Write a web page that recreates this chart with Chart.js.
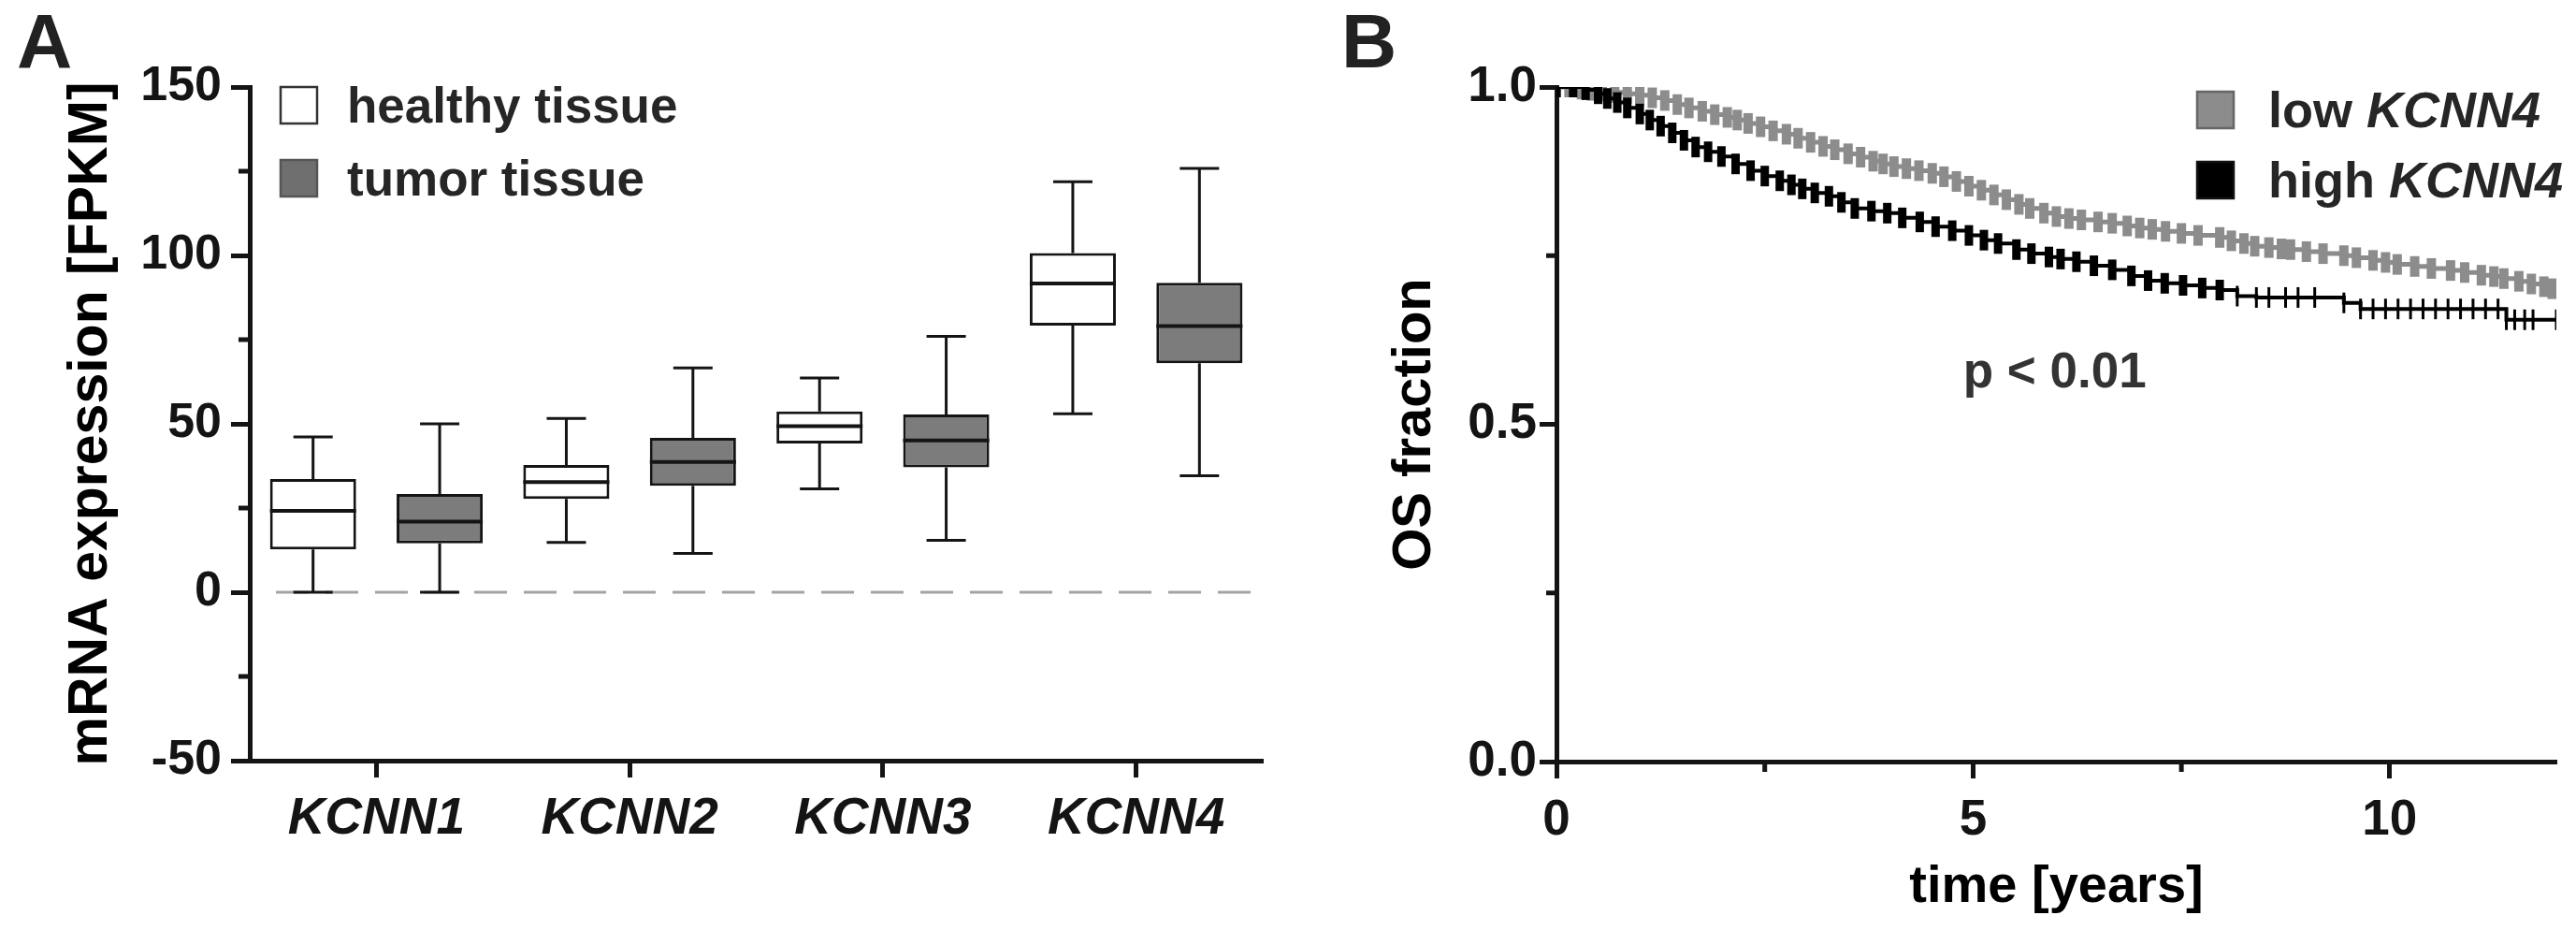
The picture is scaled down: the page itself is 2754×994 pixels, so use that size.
<!DOCTYPE html>
<html>
<head>
<meta charset="utf-8">
<script src="https://cdn.jsdelivr.net/npm/chart.js@4.4.1/dist/chart.umd.min.js"></script>
<style>
html,body{margin:0;padding:0;background:#fff;}
body{width:2754px;height:994px;position:relative;overflow:hidden;}
canvas{position:absolute;top:0;}
#boxChart{left:0;}
#kmChart{left:1390px;}
</style>
</head>
<body>
<canvas id="boxChart" width="1400" height="994"></canvas>
<canvas id="kmChart" width="1364" height="994"></canvas>
<script>
// panel A: box plots (whiskers min..max)
const genes = ['KCNN1', 'KCNN2', 'KCNN3', 'KCNN4'];
const healthyMin = [0, 14.8, 30.7, 53.0];
const healthyQ1 = [12.7, 27.7, 44.2, 79.2];
const healthyMedian = [24.2, 32.7, 49.3, 91.7];
const healthyQ3 = [33.6, 37.8, 53.7, 100.7];
const healthyMax = [46.1, 51.6, 63.6, 121.9];
const tumorMin = [0, 11.5, 15.4, 34.6];
const tumorQ1 = [14.5, 31.6, 37.1, 68.0];
const tumorMedian = [21.0, 38.7, 45.1, 79.0];
const tumorQ3 = [29.2, 45.8, 52.8, 91.9];
const tumorMax = [50.0, 66.6, 76.0, 125.8];
const exprMinorTicks = [125, 75, 25, -25];

// panel B: Kaplan-Meier, OS fraction over years
const lowTime = [0,0.15,0.3,0.42,0.55,0.7,0.85,1.0,1.15,1.3,1.45,1.59,1.75,1.9,2.05,2.17,2.3,2.45,2.6,2.76,2.9,3.05,3.2,3.34,3.5,3.65,3.8,3.92,4.05,4.2,4.35,4.51,4.65,4.8,4.95,5.1,5.25,5.4,5.55,5.68,5.85,6.0,6.15,6.3,6.5,6.67,6.85,7.0,7.15,7.31,7.5,7.7,7.96,8.1,8.25,8.38,8.55,8.7,8.81,9.0,9.2,9.45,9.6,9.8,9.95,10.09,10.3,10.5,10.73,10.9,11.1,11.25,11.37,11.55,11.7,11.85,11.95];
const lowSurv = [1.000,1.000,0.997,0.995,0.994,0.992,0.990,0.988,0.984,0.980,0.974,0.969,0.964,0.959,0.955,0.951,0.946,0.941,0.935,0.930,0.924,0.918,0.912,0.907,0.901,0.896,0.890,0.886,0.882,0.879,0.876,0.872,0.867,0.860,0.853,0.847,0.840,0.833,0.826,0.820,0.813,0.808,0.805,0.803,0.800,0.798,0.794,0.791,0.789,0.786,0.783,0.780,0.777,0.772,0.768,0.764,0.762,0.760,0.759,0.756,0.753,0.750,0.747,0.743,0.740,0.737,0.734,0.731,0.728,0.725,0.721,0.719,0.716,0.712,0.708,0.704,0.701];
const highTime = [0,0.2,0.35,0.5,0.61,0.73,0.85,1.0,1.12,1.25,1.39,1.53,1.67,1.82,1.98,2.15,2.33,2.5,2.68,2.82,2.95,3.1,3.27,3.42,3.58,3.78,3.97,4.15,4.36,4.55,4.75,4.95,5.13,5.3,5.52,5.7,5.91,6.05,6.24,6.45,6.67,6.9,7.1,7.3,7.52,7.75,7.96,8.17,8.4,8.55,8.75,8.9,9.1,9.45,9.65,9.8,9.95,10.1,10.25,10.4,10.55,10.7,10.85,11.0,11.15,11.3,11.4,11.5,11.62,11.72,12.0];
const highSurv = [1.000,1.000,0.996,0.990,0.983,0.977,0.969,0.960,0.951,0.942,0.932,0.921,0.911,0.904,0.897,0.886,0.876,0.868,0.861,0.855,0.849,0.843,0.838,0.829,0.820,0.816,0.813,0.806,0.800,0.793,0.787,0.780,0.773,0.768,0.759,0.753,0.748,0.745,0.741,0.735,0.729,0.720,0.713,0.709,0.706,0.702,0.699,0.690,0.688,0.688,0.688,0.688,0.688,0.680,0.671,0.671,0.671,0.671,0.671,0.671,0.671,0.671,0.671,0.671,0.671,0.671,0.655,0.655,0.655,0.655,0.655];
const timeMinorTicks = [2.5, 7.5];
const osMinorTicks = [0.25, 0.75];
const pValue = 'p < 0.01';

const FONT = '"Liberation Sans", Arial, Helvetica, sans-serif';
const INK = '#141414';
Chart.defaults.font.family = FONT;
Chart.defaults.color = INK;
Chart.defaults.animation = false;

// short minor ticks next to the axis lines
const minorTicks = {
  id: 'minorTicks',
  afterDraw(chart, args, opts) {
    const {ctx, chartArea} = chart;
    ctx.save();
    ctx.strokeStyle = INK;
    ctx.lineWidth = opts.width;
    ctx.beginPath();
    (opts.y || []).forEach(v => {
      const py = chart.scales.y.getPixelForValue(v);
      ctx.moveTo(chartArea.left - opts.len, py);
      ctx.lineTo(chartArea.left, py);
    });
    (opts.x || []).forEach(v => {
      const px = chart.scales.x.getPixelForValue(v);
      ctx.moveTo(px, chartArea.bottom);
      ctx.lineTo(px, chartArea.bottom + opts.len);
    });
    ctx.stroke();
    ctx.restore();
  }
};

// legend squares + labels inside the plot, gene names in italics
const squareLegend = {
  id: 'squareLegend',
  afterDraw(chart, args, opts) {
    const {ctx} = chart;
    ctx.save();
    chart.data.datasets.forEach((ds, i) => {
      const k = opts.order ? opts.order[i] : i;
      const top = opts.top + k * opts.gap;
      ctx.fillStyle = ds.legendFill || ds.backgroundColor;
      ctx.fillRect(opts.left, top, opts.size, opts.size);
      ctx.strokeStyle = ds.legendStroke || '#222';
      ctx.lineWidth = 2.5;
      ctx.strokeRect(opts.left, top, opts.size, opts.size);
      const m = ds.label.match(/^(.*?)(KCNN\d)$/);
      const parts = m ? [[m[1], 'bold'], [m[2], 'italic bold']] : [[ds.label, 'bold']];
      let x = opts.left + opts.size + opts.textGap;
      ctx.fillStyle = '#262626';
      ctx.textBaseline = 'alphabetic';
      parts.forEach(([t, w]) => {
        ctx.font = w + ' ' + opts.fontSize + 'px ' + FONT;
        ctx.fillText(t, x, top + opts.size - 1);
        x += ctx.measureText(t).width;
      });
    });
    ctx.restore();
  }
};

// panel letter and free text
const panelText = {
  id: 'panelText',
  afterDraw(chart, args, opts) {
    const {ctx} = chart;
    ctx.save();
    ctx.fillStyle = '#222';
    ctx.font = 'bold 82px ' + FONT;
    ctx.textBaseline = 'alphabetic';
    ctx.textAlign = 'left';
    ctx.fillText(opts.letter, opts.letterX, 72);
    if (opts.note) {
      ctx.font = 'bold 53px ' + FONT;
      ctx.fillStyle = '#333';
      ctx.textAlign = 'center';
      ctx.textBaseline = 'middle';
      ctx.fillText(opts.note.text, chart.scales.x.getPixelForValue(opts.note.x), chart.scales.y.getPixelForValue(opts.note.y));
    }
    ctx.restore();
  }
};

// whiskers, caps, medians and the dashed zero line
const boxWhiskers = {
  id: 'boxWhiskers',
  beforeDatasetsDraw(chart) {
    const {ctx, chartArea, scales: {y}} = chart;
    const py = y.getPixelForValue(0);
    ctx.save();
    ctx.strokeStyle = '#a3a3a3';
    ctx.lineWidth = 3;
    ctx.setLineDash([35, 18]);
    ctx.beginPath();
    ctx.moveTo(chartArea.left + 28, py);
    ctx.lineTo(chartArea.right - 4, py);
    ctx.stroke();
    ctx.restore();
  },
  afterDatasetsDraw(chart) {
    const {ctx, scales: {y}} = chart;
    const stats = [
      {min: healthyMin, med: healthyMedian, max: healthyMax},
      {min: tumorMin, med: tumorMedian, max: tumorMax}
    ];
    ctx.save();
    ctx.strokeStyle = INK;
    chart.data.datasets.forEach((ds, di) => {
      chart.getDatasetMeta(di).data.forEach((bar, i) => {
        const x = bar.x, half = bar.width / 2, cap = 21;
        const top = Math.min(bar.y, bar.base), bottom = Math.max(bar.y, bar.base);
        const yMax = y.getPixelForValue(stats[di].max[i]);
        const yMin = y.getPixelForValue(stats[di].min[i]);
        const yMed = y.getPixelForValue(stats[di].med[i]);
        ctx.lineWidth = 3;
        ctx.beginPath();
        ctx.moveTo(x, top); ctx.lineTo(x, yMax);
        ctx.moveTo(x - cap, yMax); ctx.lineTo(x + cap, yMax);
        ctx.moveTo(x, bottom); ctx.lineTo(x, yMin);
        ctx.moveTo(x - cap, yMin); ctx.lineTo(x + cap, yMin);
        ctx.stroke();
        ctx.lineWidth = 4;
        ctx.beginPath();
        ctx.moveTo(x - half, yMed); ctx.lineTo(x + half, yMed);
        ctx.stroke();
      });
    });
    ctx.restore();
  }
};

new Chart(document.getElementById('boxChart'), {
  type: 'bar',
  data: {
    labels: genes,
    datasets: [
      {label: 'healthy tissue', data: genes.map((g, i) => [healthyQ1[i], healthyQ3[i]]),
       backgroundColor: '#ffffff', borderColor: INK, borderWidth: 3, borderSkipped: false,
       legendStroke: '#333'},
      {label: 'tumor tissue', data: genes.map((g, i) => [tumorQ1[i], tumorQ3[i]]),
       backgroundColor: '#7c7c7c', borderColor: INK, borderWidth: 3, borderSkipped: false,
       legendFill: '#6f6f6f', legendStroke: '#555'}
    ]
  },
  options: {
    responsive: false, devicePixelRatio: 1,
    categoryPercentage: 1.0, barPercentage: 0.68,
    layout: {padding: {top: 93, right: 50, left: 0, bottom: 0}},
    scales: {
      x: {
        afterFit: s => { s.height = 181; },
        grid: {offset: false, drawOnChartArea: false, tickLength: 18, tickWidth: 5, tickColor: INK},
        border: {width: 5, color: INK},
        ticks: {font: {size: 55, weight: 'bold', style: 'italic'}, color: INK, padding: 12, maxRotation: 0, autoSkip: false}
      },
      y: {
        min: -50, max: 150,
        afterFit: s => { s.width = 267; },
        grid: {drawOnChartArea: false, tickLength: 20, tickWidth: 5, tickColor: INK},
        border: {width: 5, color: INK},
        ticks: {stepSize: 50, font: {size: 52, weight: 'bold'}, color: INK, padding: 10},
        title: {display: true, text: 'mRNA expression [FPKM]', font: {size: 59, weight: 'bold'}, color: '#000', padding: {top: 62, bottom: 0}}
      }
    },
    plugins: {
      legend: {display: false}, tooltip: {enabled: false},
      minorTicks: {y: exprMinorTicks, len: 12, width: 5},
      squareLegend: {left: 300, top: 93, size: 39, gap: 78, textGap: 32, fontSize: 53},
      panelText: {letter: 'A', letterX: 18}
    }
  },
  plugins: [boxWhiskers, minorTicks, squareLegend, panelText]
});

new Chart(document.getElementById('kmChart'), {
  type: 'line',
  data: {
    datasets: [
      {label: 'high KCNN4', data: highTime.map((t, i) => ({x: t, y: highSurv[i]})),
       borderColor: '#000', backgroundColor: '#000', borderWidth: 4, stepped: true, order: 0,
       pointStyle: 'line', pointRotation: 90, pointRadius: 11, pointBorderColor: '#000',
       // censor marks pile up densely before ~8 years, sparse after
       pointBorderWidth: c => (c.raw && c.raw.x < 8.1 ? 9 : 3),
       legendStroke: '#111'},
      {label: 'low KCNN4', data: lowTime.map((t, i) => ({x: t, y: lowSurv[i]})),
       borderColor: '#8c8c8c', backgroundColor: '#8c8c8c', borderWidth: 5, stepped: true, order: 1,
       pointStyle: 'line', pointRotation: 90, pointRadius: 11, pointBorderWidth: 10, pointBorderColor: '#8c8c8c',
       legendStroke: '#666'}
    ]
  },
  options: {
    responsive: false, devicePixelRatio: 1,
    layout: {padding: {top: 93, right: 13, left: 0, bottom: 0}},
    scales: {
      x: {
        type: 'linear', min: 0, max: 12,
        afterFit: s => { s.height = 180; },
        grid: {drawOnChartArea: false, tickLength: 18, tickWidth: 5, tickColor: INK},
        border: {width: 5, color: INK},
        ticks: {stepSize: 5, includeBounds: false, font: {size: 53, weight: 'bold'}, color: INK, padding: 14},
        title: {display: true, text: 'time [years]', font: {size: 56, weight: 'bold'}, color: '#000', padding: {top: 0, bottom: 12}}
      },
      y: {
        min: 0, max: 1,
        afterFit: s => { s.width = 274; },
        grid: {drawOnChartArea: false, tickLength: 18, tickWidth: 5, tickColor: INK},
        border: {width: 5, color: INK},
        ticks: {stepSize: 0.5, callback: v => v.toFixed(1), font: {size: 53, weight: 'bold'}, color: INK, padding: 3},
        title: {display: true, text: 'OS fraction', font: {size: 58, weight: 'bold'}, color: '#000', padding: {top: 88, bottom: 0}}
      }
    },
    plugins: {
      legend: {display: false}, tooltip: {enabled: false},
      minorTicks: {x: timeMinorTicks, y: osMinorTicks, len: 11, width: 5},
      squareLegend: {left: 959, top: 98, size: 39, gap: 75, textGap: 37, fontSize: 54, order: [1, 0]},
      panelText: {letter: 'B', letterX: 44, note: {text: pValue, x: 5.98, y: 0.575}}
    }
  },
  plugins: [minorTicks, squareLegend, panelText]
});
</script>
</body>
</html>
